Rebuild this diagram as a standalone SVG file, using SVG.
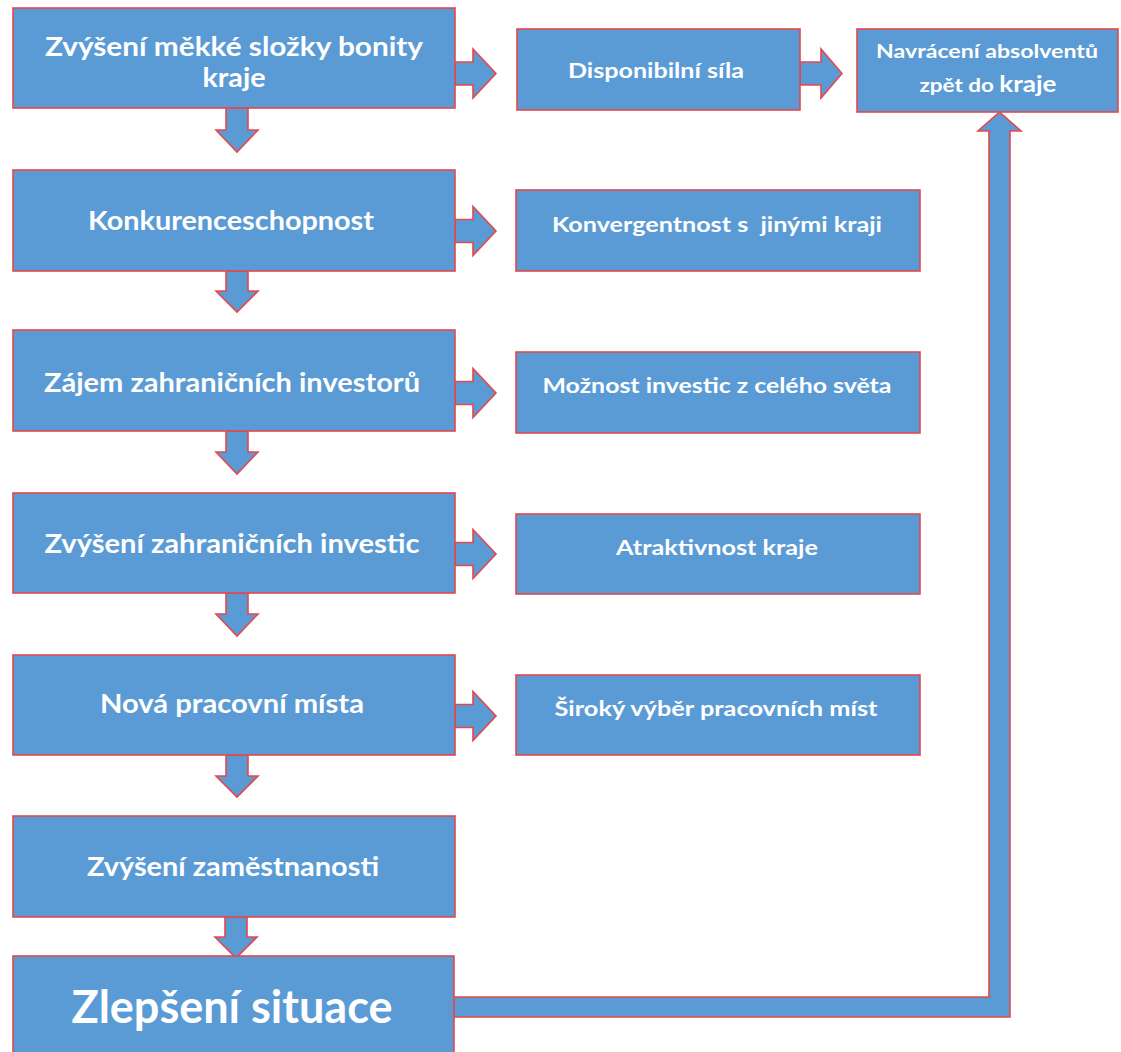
<svg xmlns="http://www.w3.org/2000/svg" width="1121" height="1052" viewBox="0 0 1121 1052">
<style>
.box{fill:#5B9BD5;stroke:#E5484B;stroke-width:1.6}
.arr{fill:#5B9BD5;stroke:#E5484B;stroke-width:1.6;stroke-linejoin:miter}
.t{fill:#ffffff;font-family:Lato,"Open Sans","Noto Sans",sans-serif;font-weight:700;text-anchor:middle;white-space:pre}
.l{font-size:26px}
.r{font-size:21px}
</style>
<rect width="1121" height="1052" fill="#ffffff"/>
<g id="connectors">
  <!-- right arrows -->
  <polygon class="arr" points="455,62 473,62 473,49 496,73.5 473,98 473,85 455,85"/>
  <polygon class="arr" points="800,62 821,62 821,49 842,73.5 821,98 821,85 800,85"/>
  <polygon class="arr" points="455,219.5 473,219.5 473,206.5 496,231 473,255.5 473,242.5 455,242.5"/>
  <polygon class="arr" points="455,381.5 473,381.5 473,368.5 496,393 473,417.5 473,404.5 455,404.5"/>
  <polygon class="arr" points="455,542.5 473,542.5 473,529.5 496,554 473,578.5 473,565.5 455,565.5"/>
  <polygon class="arr" points="455,704.5 473,704.5 473,691.5 496,716 473,740.5 473,727.5 455,727.5"/>
  <!-- down arrows -->
  <polygon class="arr" points="226,108 248,108 248,130 258,130 237,152 216,130 226,130"/>
  <polygon class="arr" points="226,271 248,271 248,291 258,291 237,312 216,291 226,291"/>
  <polygon class="arr" points="226,431 248,431 248,452 258,452 237,474 216,452 226,452"/>
  <polygon class="arr" points="226,593 248,593 248,614 258,614 237,636 216,614 226,614"/>
  <polygon class="arr" points="226,755 248,755 248,776 258,776 237,797 216,776 226,776"/>
  <polygon class="arr" points="225,917 247,917 247,937 257,937 236,958 215,937 225,937"/>
</g>
<g id="n1"><rect class="box" x="13" y="8" width="442" height="100"/>
  <text class="t l" x="234" y="56" textLength="378" lengthAdjust="spacingAndGlyphs">Zvýšení měkké složky bonity</text>
  <text class="t l" x="234" y="87" textLength="63" lengthAdjust="spacingAndGlyphs">kraje</text></g>
<g id="n2"><rect class="box" x="13" y="170" width="442" height="101"/>
  <text class="t l" x="231" y="230" textLength="286" lengthAdjust="spacingAndGlyphs">Konkurenceschopnost</text></g>
<g id="n3"><rect class="box" x="13" y="330" width="442" height="101"/>
  <text class="t l" x="232" y="392" textLength="376" lengthAdjust="spacingAndGlyphs">Zájem zahraničních investorů</text></g>
<g id="n4"><rect class="box" x="13" y="493" width="442" height="100"/>
  <text class="t l" x="232" y="553" textLength="375" lengthAdjust="spacingAndGlyphs">Zvýšení zahraničních investic</text></g>
<g id="n5"><rect class="box" x="13" y="655" width="442" height="100"/>
  <text class="t l" x="232" y="713" textLength="264" lengthAdjust="spacingAndGlyphs">Nová pracovní místa</text></g>
<g id="n6"><rect class="box" x="13" y="816" width="442" height="101"/>
  <text class="t l" x="233" y="876" textLength="292" lengthAdjust="spacingAndGlyphs">Zvýšení zaměstnanosti</text></g>
<g id="n7"><rect class="box" x="13" y="956" width="441" height="110"/>
  <text class="t" x="232" y="1023" style="font-size:45px" textLength="321" lengthAdjust="spacingAndGlyphs">Zlepšení situace</text></g>
<g id="r1"><rect class="box" x="517" y="29" width="283" height="81"/>
  <text class="t r" x="656" y="78" textLength="176" lengthAdjust="spacingAndGlyphs">Disponibilní síla</text></g>
<g id="r0"><rect class="box" x="857" y="29" width="261" height="83"/>
  <text class="t" x="987" y="58" style="font-size:19px" textLength="222" lengthAdjust="spacingAndGlyphs">Navrácení absolventů</text>
  <text class="t" x="988" y="92" style="font-size:19px" textLength="137" lengthAdjust="spacingAndGlyphs">zpět do <tspan style="font-size:22px">kraje</tspan></text></g>
<g id="r2"><rect class="box" x="516" y="190" width="404" height="81"/>
  <text class="t r" x="717" y="232" textLength="330" lengthAdjust="spacingAndGlyphs">Konvergentnost s  jinými kraji</text></g>
<g id="r3"><rect class="box" x="516" y="352" width="404" height="81"/>
  <text class="t r" x="717" y="393" textLength="349" lengthAdjust="spacingAndGlyphs">Možnost investic z celého světa</text></g>
<g id="r4"><rect class="box" x="516" y="514" width="404" height="80"/>
  <text class="t r" x="717" y="555" textLength="202" lengthAdjust="spacingAndGlyphs">Atraktivnost kraje</text></g>
<g id="r5"><rect class="box" x="516" y="675" width="404" height="80"/>
  <text class="t r" x="716" y="716" textLength="323" lengthAdjust="spacingAndGlyphs">Široký výběr pracovních míst</text></g>
<g id="feedback">
  <polygon class="arr" points="454,997 989,997 989,131 978,131 999.5,112 1021,131 1010,131 1010,1017 454,1017"/>
</g>
</svg>
